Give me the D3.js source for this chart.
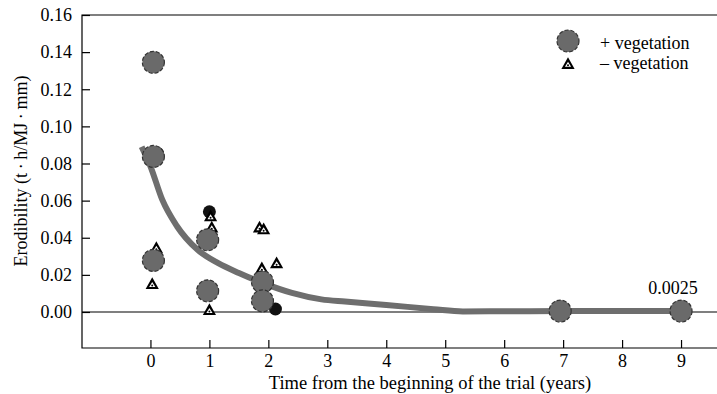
<!DOCTYPE html>
<html>
<head>
<meta charset="utf-8">
<script src="https://cdn.jsdelivr.net/npm/d3@7"></script>
<style>
  body { margin: 0; background: #fff; }
  svg text { font-family: 'Liberation Serif', 'Times New Roman', serif; }
</style>
</head>
<body>
<div class="graph"></div>
<script>
// + vegetation (grey circles)
var vegT = [0.05, 0.05, 0.05, 0.97, 0.97, 1.9, 1.9, 6.95, 9];
var vegY = [0.1345, 0.0838, 0.0278, 0.0389, 0.0114, 0.0162, 0.006, 0.0005, 0.0005];
// - vegetation (triangles)
var bareT = [0.03, 0.1, 1.0, 1.02, 1.04, 1.85, 1.92, 1.89, 2.14];
var bareY = [0.015, 0.0345, 0.001, 0.0515, 0.0455, 0.0455, 0.0445, 0.0235, 0.0262];
// dark points partly hidden behind circles
var darkT = [0.12, 1.0, 2.12, 0.1];
var darkY = [0.0855, 0.054, 0.0016, 0.0275];
// fitted curve
var curveT = [-0.15, 0, 0.2, 0.45, 0.8, 1.15, 1.5, 1.9, 2.4, 2.9, 3.3, 4.0, 4.8, 5.3, 6, 7, 8, 9];
var curveY = [0.089, 0.0785, 0.0605, 0.0462, 0.0335, 0.0263, 0.021, 0.0157, 0.0103, 0.0068, 0.0056, 0.0038, 0.0015, 0.0003, 0.0004, 0.0005, 0.0005, 0.0005];
var xTicks = [0, 1, 2, 3, 4, 5, 6, 7, 8, 9];
var yTicks = [0, 0.02, 0.04, 0.06, 0.08, 0.10, 0.12, 0.14, 0.16];

var width = 717;
var height = 394;
var plot = { left: 82, right: 717, top: 15, bottom: 348 };

var svg = d3.select(".graph").append("svg")
    .attr("width", width)
    .attr("height", height);

var x = d3.scaleLinear().domain([-1.161, 9.61]).range([plot.left, plot.right]);
var y = d3.scaleLinear().domain([-0.0194, 0.16]).range([plot.bottom, plot.top]);

// frame (left, top, bottom)
svg.append("path")
    .attr("d", "M" + plot.right + "," + plot.top + "H" + plot.left + "V" + plot.bottom + "H" + plot.right)
    .attr("fill", "none")
    .attr("stroke", "#000")
    .attr("stroke-width", 1.2);

// zero line
svg.append("line")
    .attr("x1", plot.left).attr("x2", plot.right)
    .attr("y1", y(0)).attr("y2", y(0))
    .attr("stroke", "#000").attr("stroke-width", 1.2);

// axes
var yAxis = svg.append("g")
    .attr("transform", "translate(" + plot.left + ",0)")
    .call(d3.axisLeft(y).tickValues(yTicks).tickFormat(d3.format(".2f"))
        .tickSizeInner(-8).tickSizeOuter(0).tickPadding(10));
var xAxis = svg.append("g")
    .attr("transform", "translate(0," + plot.bottom + ")")
    .call(d3.axisBottom(x).tickValues(xTicks).tickFormat(d3.format("d"))
        .tickSizeInner(-8).tickSizeOuter(0).tickPadding(6));
[xAxis, yAxis].forEach(function (g) {
    g.attr("font-family", null);
    g.select(".domain").remove();
    g.selectAll("line").attr("stroke", "#000").attr("stroke-width", 1.2);
    g.selectAll("text").attr("fill", "#000").style("font-size", "18px");
});

// axis titles
svg.append("text")
    .attr("x", 430).attr("y", 389)
    .attr("text-anchor", "middle")
    .style("font-size", "18.5px")
    .text("Time from the beginning of the trial (years)");
svg.append("text")
    .attr("transform", "translate(27,171) rotate(-90)")
    .attr("text-anchor", "middle")
    .style("font-size", "18px")
    .text("Erodibility (t\u2009\u00b7\u2009h/MJ\u2009\u00b7\u2009mm)");

// markers
function triangle(g, cx, cy, s) {
    var gg = g.append("g").attr("transform", "translate(" + cx + "," + cy + ")");
    gg.append("path")
        .attr("d", "M0," + (-s * 0.62) + "L" + (s * 0.6) + "," + (s * 0.45) + "L" + (-s * 0.6) + "," + (s * 0.45) + "Z")
        .attr("fill", "#000");
    gg.append("path")
        .attr("d", "M0," + (-s * 0.2) + "L" + (s * 0.28) + "," + (s * 0.25) + "L" + (-s * 0.28) + "," + (s * 0.25) + "Z")
        .attr("fill", "#fff");
    gg.append("circle").attr("cx", 0).attr("cy", s * 0.12).attr("r", 1).attr("fill", "#000");
}

var dark = svg.append("g");
darkT.forEach(function (t, i) {
    dark.append("circle")
        .attr("cx", x(t)).attr("cy", y(darkY[i])).attr("r", 6.5)
        .attr("fill", "#111");
});

var tri = svg.append("g");
bareT.forEach(function (t, i) { triangle(tri, x(t), y(bareY[i]), 11); });

var line = d3.line()
    .x(function (d) { return x(d[0]); })
    .y(function (d) { return y(d[1]); })
    .curve(d3.curveMonotoneX);
svg.append("path")
    .datum(d3.zip(curveT, curveY))
    .attr("d", line)
    .attr("fill", "none")
    .attr("stroke", "#6e6e6e")
    .attr("stroke-width", 6);

var circ = svg.append("g");
vegT.forEach(function (t, i) {
    circ.append("circle")
        .attr("cx", x(t)).attr("cy", y(vegY[i])).attr("r", 11)
        .attr("fill", "#6a6a6a")
        .attr("stroke", "#333").attr("stroke-width", 1.2)
        .attr("stroke-dasharray", "4,2");
});

// annotation
svg.append("text")
    .attr("x", 673).attr("y", 293.5)
    .attr("text-anchor", "middle")
    .style("font-size", "18px")
    .text("0.0025");

// legend
var leg = svg.append("g");
leg.append("circle").attr("cx", 568).attr("cy", 41).attr("r", 11)
    .attr("fill", "#6a6a6a").attr("stroke", "#333").attr("stroke-width", 1.2)
    .attr("stroke-dasharray", "4,2");
triangle(leg, 568, 64, 11);
leg.append("text").attr("x", 600).attr("y", 49).style("font-size", "18px").text("+ vegetation");
leg.append("text").attr("x", 600).attr("y", 68.5).style("font-size", "18px").text("\u2013 vegetation");
</script>
</body>
</html>
